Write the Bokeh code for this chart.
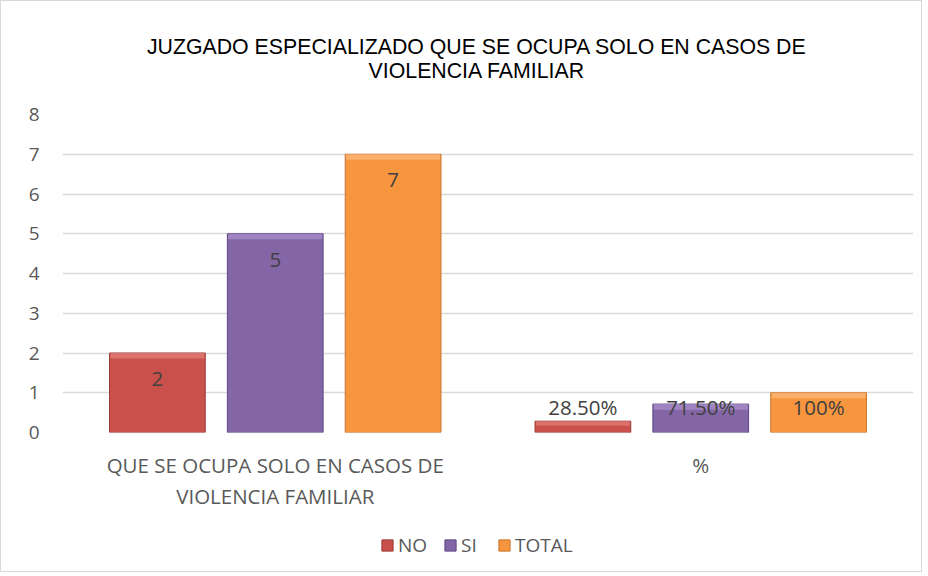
from bokeh.plotting import figure
from bokeh.layouts import column
from bokeh.models import (ColumnDataSource, FixedTicker, Legend, LegendItem, Range1d)
from bokeh.embed import file_html
from bokeh.resources import INLINE
from bokeh.core.properties import value

# ---- data ----
title_lines = ["JUZGADO ESPECIALIZADO QUE SE OCUPA SOLO EN CASOS DE", "VIOLENCIA FAMILIAR"]
categories = ["QUE SE OCUPA SOLO EN CASOS DE\nVIOLENCIA FAMILIAR", "%"]
series_names = ["NO", "SI", "TOTAL"]
counts = [2, 5, 7]
percents = [0.285, 0.715, 1.0]
percent_labels = ["28.50%", "71.50%", "100%"]
count_labels = ["2", "5", "7"]
y_ticks = [0, 1, 2, 3, 4, 5, 6, 7, 8]

colors = ["#C9504B", "#8466A6", "#F7963F"]
edge_colors = ["#9A3B37", "#5E4680", "#C8742C"]
top_colors = ["#E27B76", "#A88CC8", "#FBB575"]

FONT = "Open Sans"
W = 920


def strip(height):
    f = figure(width=W, height=height, output_backend="svg", toolbar_location=None,
               x_range=Range1d(0, W), y_range=Range1d(height, 0),
               x_axis_location=None, y_axis_location=None,
               min_border_left=0, min_border_right=0, min_border_top=0,
               min_border_bottom=0)
    f.outline_line_color = None
    f.xgrid.visible = False
    f.ygrid.visible = False
    return f


# ---- title strip ----
hd = strip(100)
hd.text(x=[448, 448], y=[45, 69], text=title_lines, text_align="center",
        text_baseline="middle", text_font=value("Liberation Sans"),
        text_font_size="21.3px", text_color="#000000")

# ---- main chart ----
p = figure(width=W, height=420, output_backend="svg", toolbar_location=None,
           x_range=Range1d(0, 2), y_range=Range1d(0, 8), title=None,
           min_border_left=61, min_border_right=8, min_border_top=13,
           min_border_bottom=89)
p.background_fill_color = "white"
p.border_fill_color = "white"
p.outline_line_color = None

offsets = [-0.277, 0.0, 0.277]
bw = 0.225
centers = [0.5, 1.5]
for i, name in enumerate(series_names):
    xs = [centers[0] + offsets[i], centers[1] + offsets[i]]
    tops = [counts[i], percents[i]]
    src = ColumnDataSource(dict(x=xs, top=tops))
    p.vbar(x="x", top="top", width=bw, bottom=0, source=src,
           fill_color=colors[i], line_color=edge_colors[i], line_width=1)
    band = ColumnDataSource(dict(x=xs, top=tops, bottom=[t - min(0.14, t * 0.4) for t in tops]))
    p.vbar(x="x", top="top", bottom="bottom", width=bw - 0.004, source=band,
           fill_color=top_colors[i], line_color=None, fill_alpha=0.8)

    lab = ColumnDataSource(dict(x=xs, y=[counts[i] - 0.65, 0.63],
                                t=[count_labels[i], percent_labels[i]]))
    p.text(x="x", y="y", text="t", source=lab, text_align="center",
           text_baseline="middle", text_font=value(FONT), text_font_size="20.5px",
           text_color="#404040")

p.xaxis.ticker = FixedTicker(ticks=centers)
p.xaxis.major_label_overrides = {0.5: categories[0], 1.5: categories[1]}
p.yaxis.ticker = FixedTicker(ticks=y_ticks)
for ax in (p.xaxis, p.yaxis):
    ax.axis_line_color = None
    ax.major_tick_line_color = None
    ax.minor_tick_line_color = None
    ax.major_label_text_font = FONT
    ax.major_label_text_color = "#595959"
p.xaxis.major_label_text_font_size = "20.5px"
p.xaxis.major_label_text_line_height = 1.12
p.yaxis.major_label_text_font_size = "19px"
p.xaxis.major_label_standoff = 12
p.yaxis.major_label_standoff = 17

p.xgrid.grid_line_color = None
p.ygrid.ticker = FixedTicker(ticks=y_ticks)
p.ygrid.grid_line_color = "#D9D9D9"
p.ygrid.grid_line_width = 1.5

# ---- legend strip ----
lg = strip(50)
items = []
for i, name in enumerate(series_names):
    r = lg.vbar(x=[0], top=[0], width=0.0, fill_color=colors[i],
                line_color=edge_colors[i])
    items.append(LegendItem(label=name, renderers=[r]))
legend = Legend(items=items, orientation="horizontal", location=(318, 13),
                label_text_font=FONT, label_text_font_size="19px",
                label_text_color="#595959", glyph_width=14, glyph_height=14,
                spacing=16, label_standoff=4, border_line_color=None,
                background_fill_alpha=0, margin=0, padding=0)
lg.add_layout(legend)

layout = column(hd, p, lg, spacing=0)
layout.styles = {"border": "1px solid #D9D9D9"}
open("out.html", "w").write(file_html(layout, INLINE))
